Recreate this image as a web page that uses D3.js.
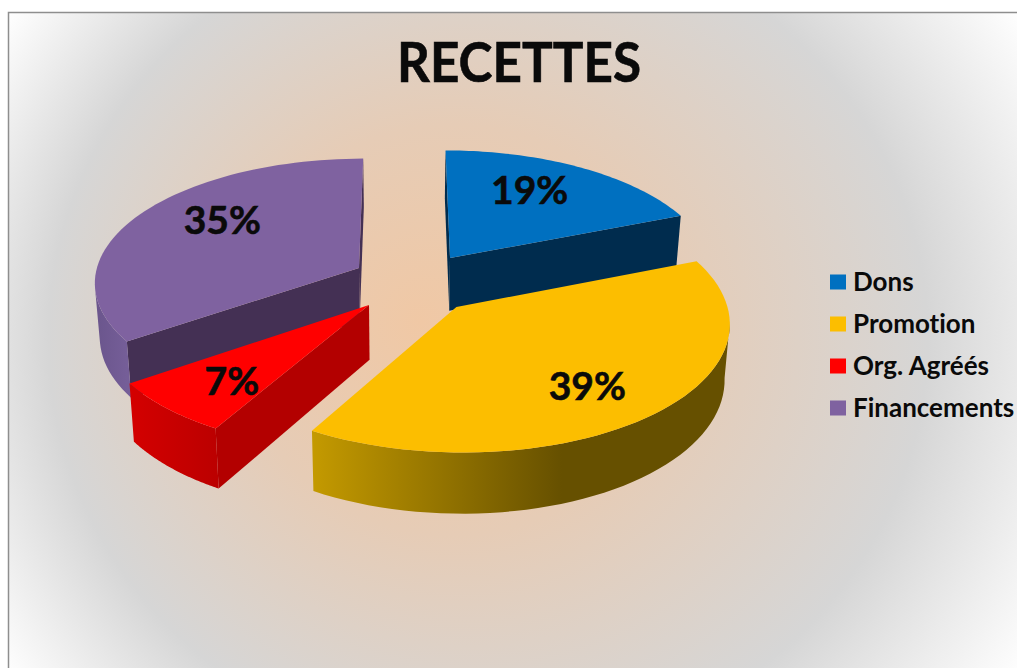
<!DOCTYPE html>
<html>
<head>
<meta charset="utf-8">
<script src="https://cdn.jsdelivr.net/npm/d3@7"></script>
<style>
  html, body { margin: 0; padding: 0; background: #fff; overflow: hidden; }
  text { font-family: Lato, "Open Sans", sans-serif; font-weight: 700; fill: #0a0a0a; font-variant-ligatures: none; }
</style>
</head>
<body>
<svg id="chart" width="1017" height="668"></svg>
<script>
var categories = ["Dons", "Promotion", "Org. Agréés", "Financements"];
var values     = [19, 39.35, 7, 34.65];
var title      = "RECETTES";

var topColors  = ["#0070c0", "#fcbe00", "#ff0000", "#7f62a0"];
var cutColors  = ["#002c4e", "#665000", "#b30000", "#443054"];
// rim gradient, left to right
var rimColors  = [["#002c4e", "#002c4e"], ["#c49a00", "#665000"], ["#d40000", "#bc0000"], ["#6a558c", "#755e98"]];

var W = 1017, H = 668;
var cx = 403, cy = 285;
var R = 266, Ry = 124.7, persp = 0.108;
var depth = 54, depthPersp = 0.1, squeeze = 0.984;

// how far each slice is pulled out, on the ground plane
var pullX = [0.181, 0.197, -0.1256, -0.168];
var pullY = [-0.2217, 0.173, 0.1576, -0.138];
var drawOrder = [3, 0, 2, 1];

var labelNudge = [[-14, -4], [-4, 5], [1, 5], [19, -11]];

var svg = d3.select("#chart");
var defs = svg.append("defs");

// background
var bg = defs.append("radialGradient").attr("id", "bg")
  .attr("gradientUnits", "userSpaceOnUse")
  .attr("cx", 0).attr("cy", 0).attr("r", 1).attr("fx", -0.154).attr("fy", -0.04)
  .attr("gradientTransform", "translate(515,345) scale(616,587)");
[[0, "#f0c8a5"], [0.35, "#e6ccb6"], [0.714, "#d6d6d6"], [1, "#ffffff"]].forEach(function (s) {
  bg.append("stop").attr("offset", s[0]).attr("stop-color", s[1]);
});
svg.append("rect").attr("x", 8.5).attr("y", 12.5).attr("width", W + 10).attr("height", H)
  .attr("fill", "url(#bg)").attr("stroke", "#8e8e8e").attr("stroke-width", 1.5);

var pie = d3.pie().sort(null).value(function (d) { return d; });
var arcs = pie(values);

function project(i, a, r) {
  var X = pullX[i] + r * Math.sin(a);
  var Y = pullY[i] - r * Math.cos(a);
  var w = 1 - persp * Y;
  return [cx + X * R / w, cy + Y * Ry / w, Y];
}
function drop(p) {
  return [cx + (p[0] - cx) * squeeze, p[1] + depth / (1 - depthPersp * p[2])];
}

var line = d3.line().curve(d3.curveLinearClosed);

function samples(a0, a1) {
  return d3.range(0, 61).map(function (k) { return a0 + (a1 - a0) * k / 60; });
}

var slices = svg.append("g");

drawOrder.forEach(function (i) {
  var d = arcs[i];
  var g = slices.append("g").attr("class", "slice");
  var apex = project(i, 0, 0);
  var angles = samples(d.startAngle, d.endAngle);
  var rim = angles.map(function (a) { return project(i, a, 1); });

  // flat cut faces, only the ones turned to the viewer
  [[rim[0], 1], [rim[rim.length - 1], -1]].forEach(function (f) {
    var quad = [apex, f[0], drop(f[0]), drop(apex)];
    if (d3.polygonArea(quad) * f[1] > 0) {
      g.append("path").attr("d", line(quad.map(function (p) { return [p[0], p[1]]; })))
        .attr("fill", cutColors[i]);
    }
  });

  // outer wall, only where the rim runs right to left
  var front = rim.filter(function (p, k) {
    return k < rim.length - 1 ? rim[k + 1][0] < p[0] : rim[k - 1][0] > p[0];
  });
  if (front.length > 1) {
    var xs = d3.extent(front, function (p) { return p[0]; });
    var id = "rim" + i;
    var lg = defs.append("linearGradient").attr("id", id)
      .attr("gradientUnits", "userSpaceOnUse")
      .attr("x1", xs[0]).attr("x2", i == 1 ? xs[0] + 250 : xs[1]).attr("y1", 0).attr("y2", 0);
    lg.append("stop").attr("offset", 0).attr("stop-color", rimColors[i][0]);
    lg.append("stop").attr("offset", 1).attr("stop-color", rimColors[i][1]);
    var wall = front.map(function (p) { return [p[0], p[1]]; })
      .concat(front.slice().reverse().map(drop));
    g.append("path").attr("d", line(wall)).attr("fill", "url(#" + id + ")");
  }

  // top face
  var topFace = [[apex[0], apex[1]]].concat(rim.map(function (p) { return [p[0], p[1]]; }));
  g.append("path").attr("d", line(topFace)).attr("fill", topColors[i]);
});

// percent labels
svg.append("g").selectAll("text").data(arcs).enter().append("text")
  .attr("x", function (d, i) {
    return project(i, (d.startAngle + d.endAngle) / 2, 0.7)[0] + labelNudge[i][0];
  })
  .attr("y", function (d, i) {
    return project(i, (d.startAngle + d.endAngle) / 2, 0.7)[1] + labelNudge[i][1];
  })
  .attr("text-anchor", "middle")
  .attr("dominant-baseline", "central")
  .attr("font-size", 39)
  .attr("stroke", "#0a0a0a").attr("stroke-width", 0.6)
  .text(function (d) { return Math.round(d.value) + "%"; });

// title
svg.append("text").attr("x", 397).attr("y", 82)
  .attr("font-size", 55).attr("textLength", 244).attr("lengthAdjust", "spacingAndGlyphs")
  .attr("stroke", "#0a0a0a").attr("stroke-width", 0.6)
  .text(title);

// legend
var legendY = d3.scalePoint().domain(categories).range([282, 408]);
var legend = svg.append("g").selectAll("g").data(categories).enter().append("g")
  .attr("transform", function (d) { return "translate(830," + legendY(d) + ")"; });
legend.append("rect").attr("x", 0).attr("y", -7.5).attr("width", 16).attr("height", 15)
  .attr("fill", function (d, i) { return topColors[i]; });
legend.append("text").attr("x", 23).attr("y", -1).attr("dominant-baseline", "central")
  .attr("font-size", 26).text(function (d) { return d; });
</script>
</body>
</html>
